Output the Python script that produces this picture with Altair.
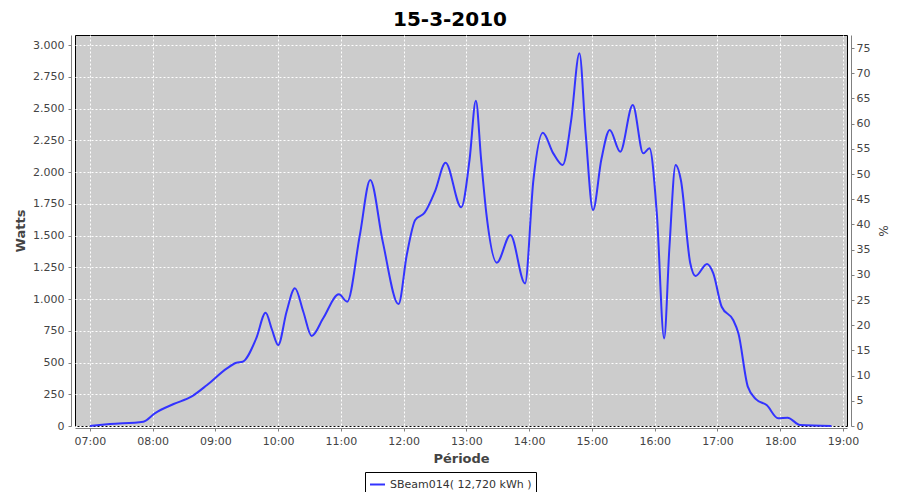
import altair as alt
import pandas as pd

times = ["07:00", "07:19", "07:51", "08:02", "08:20", "08:37", "08:52", "09:11", "09:20", "09:26",
         "09:39", "09:48", "09:54", "10:00", "10:08", "10:16", "10:24", "10:32", "10:43", "10:58",
         "11:06", "11:18", "11:28", "11:40", "11:55", "12:03", "12:11", "12:20", "12:30", "12:40",
         "12:55", "13:03", "13:09", "13:14", "13:19", "13:29", "13:42", "13:56", "14:04", "14:13",
         "14:23", "14:32", "14:40", "14:48", "14:54", "15:01", "15:09", "15:17", "15:27", "15:39",
         "15:49", "15:55", "16:02", "16:09", "16:14", "16:20", "16:25", "16:34", "16:39", "16:50",
         "16:56", "17:04", "17:15", "17:20", "17:29", "17:37", "17:47", "17:58", "18:07", "18:19",
         "18:49"]
watts = [0, 15, 34, 100, 173, 231, 323, 454, 498, 506,
         690, 892, 760, 638, 900, 1084, 900, 709, 848, 1037,
         979, 1500, 1937, 1450, 960, 1350, 1622, 1680, 1850, 2073,
         1722, 2100, 2562, 2100, 1675, 1286, 1504, 1123, 1937, 2309,
         2147, 2055, 2400, 2935, 2300, 1701, 2100, 2331, 2160, 2528,
         2147, 2187, 1675, 690, 1400, 2055, 1937, 1281, 1181, 1276,
         1202, 939, 835, 730, 310, 210, 165, 61, 65, 8,
         0]
series_name = "SBeam014( 12,720 kWh )"
y_ticks = list(range(0, 3001, 250))
pct_ticks = list(range(0, 76, 5))
hour_ticks = list(range(7, 20))

hours = [int(t[:2]) + int(t[3:]) / 60 for t in times]
df = pd.DataFrame({"h": hours, "w": watts, "s": series_name})

FONT = "DejaVu Sans"
GRAY = "#808080"
LBL = "#444444"

x_enc = alt.X("h:Q", scale=alt.Scale(domain=[6.762, 19.064], nice=False, zero=False),
              axis=alt.Axis(values=hour_ticks, title="Période",
                            labelExpr="(datum.value < 10 ? '0' : '') + datum.value + ':00'",
                            grid=True, gridColor="white", gridDash=[2, 2], gridWidth=1, gridOpacity=1,
                            offset=2, domainColor=GRAY, tickColor=GRAY, tickSize=3,
                            labelColor=LBL, labelFont=FONT, labelFontSize=11, labelPadding=4,
                            titleFont=FONT, titleFontSize=13, titleFontWeight="bold",
                            titleColor=LBL, titlePadding=6))

line = alt.Chart(df).mark_line(strokeWidth=2, interpolate="monotone").encode(
    x=x_enc,
    y=alt.Y("w:Q", scale=alt.Scale(domain=[0, 3079], nice=False),
            axis=alt.Axis(values=y_ticks, title="Watts",
                          labelExpr="replace(format(datum.value, ','), ',', '.')",
                          grid=True, gridColor="white", gridDash=[2, 2], gridWidth=1, gridOpacity=1,
                          offset=4, domainColor=GRAY, tickColor=GRAY, tickSize=3,
                          labelColor=LBL, labelFont=FONT, labelFontSize=11, labelPadding=4,
                          titleFont=FONT, titleFontSize=13, titleFontWeight="bold",
                          titleColor=LBL, titlePadding=5)),
    color=alt.Color("s:N", scale=alt.Scale(domain=[series_name], range=["#3333ff"]),
                    legend=alt.Legend(title=None, orient="none", legendX=290, legendY=437,
                                      symbolType="stroke", symbolStrokeWidth=2, symbolSize=225,
                                      strokeColor="black", padding=4, labelFont=FONT,
                                      labelFontSize=11, labelColor="#333333", symbolOffset=0,
                                      labelOffset=4)),
)

pct_layer = alt.Chart(df).transform_calculate(p="datum.w / 3968 * 100").mark_line(
    strokeOpacity=0).encode(
    x=alt.X("h:Q"),
    y=alt.Y("p:Q", scale=alt.Scale(domain=[0, 77.6], nice=False),
            axis=alt.Axis(values=pct_ticks, title="%", orient="right", grid=False,
                          offset=4, domainColor=GRAY, tickColor=GRAY, tickSize=3,
                          labelColor=LBL, labelFont=FONT, labelFontSize=11, labelPadding=2,
                          titleFont=FONT, titleFontSize=12, titleFontWeight="normal",
                          titleColor=LBL, titlePadding=6)),
)

chart = alt.layer(line, pct_layer).resolve_scale(y="independent").properties(
    width=772, height=391,
    autosize=alt.AutoSizeParams(type="none"),
    padding={"left": 67, "top": 27, "right": 45, "bottom": 66},
    background="white",
    title=alt.TitleParams("15-3-2010", fontSize=20, fontWeight="bold", font=FONT,
                          color="black", anchor="middle", dx=-11, offset=5),
).configure_view(fill="#cccccc", stroke="black", strokeWidth=1)

chart.save("out.html", embed_options={"renderer": "svg", "actions": False})
